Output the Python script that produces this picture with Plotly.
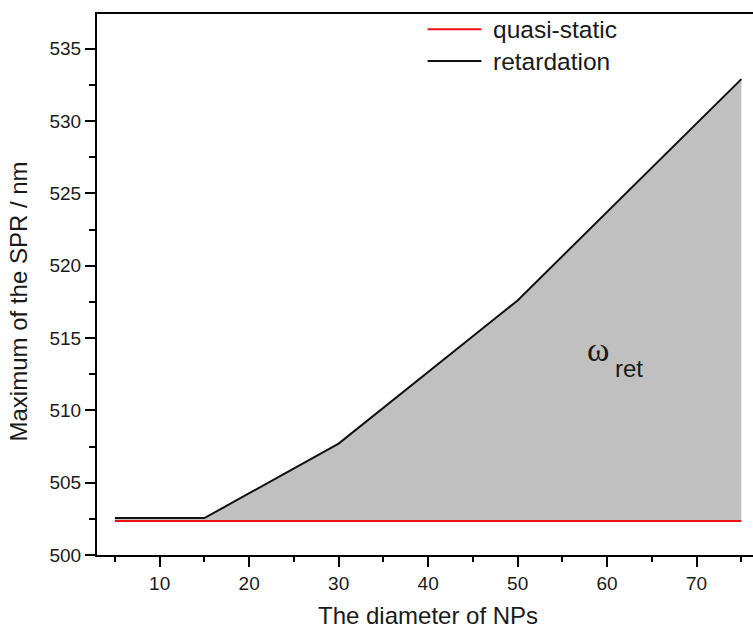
import plotly.graph_objects as go

diameter = [5, 15, 30, 50, 75]
quasi_static = [502.35, 502.35, 502.35, 502.35, 502.35]
retardation = [502.55, 502.55, 507.7, 517.6, 532.9]
names = ["quasi-static", "retardation"]
colors = ["#ee1111", "#111111"]

x_ticks = [10, 20, 30, 40, 50, 60, 70]
y_ticks = [500, 505, 510, 515, 520, 525, 530, 535]

fig = go.Figure()
fig.add_trace(go.Scatter(x=diameter, y=quasi_static, mode="lines", name=names[0],
                         line=dict(color=colors[0], width=2), showlegend=False))
fig.add_trace(go.Scatter(x=diameter, y=retardation, mode="lines", name=names[1],
                         line=dict(color=colors[1], width=2), fill="tonexty",
                         fillcolor="rgb(192,192,192)", showlegend=False))

font_family = "Liberation Sans, Arial, sans-serif"
txt = "#1a1a1a"

fig.update_layout(
    width=753, height=630,
    margin=dict(l=97, r=0, t=14, b=75),
    plot_bgcolor="white", paper_bgcolor="white",
    font=dict(family=font_family, color=txt),
    showlegend=False,
)
fig.update_xaxes(
    range=[3.0, 76.3], showgrid=False, zeroline=False,
    showline=True, linecolor="black", linewidth=2, mirror=True,
    tickmode="array", tickvals=x_ticks, ticks="outside", ticklen=10, tickwidth=2, tickcolor="black",
    tickfont=dict(size=19),
    minor=dict(tickmode="linear", tick0=5, dtick=5, ticks="outside", ticklen=5, tickwidth=2, tickcolor="black"),
)
fig.update_yaxes(
    range=[500, 537.4], showgrid=False, zeroline=False,
    showline=True, linecolor="black", linewidth=2, mirror=False,
    tickmode="array", tickvals=y_ticks, ticks="outside", ticklen=10, tickwidth=2, tickcolor="black",
    tickfont=dict(size=19),
    minor=dict(tickmode="linear", tick0=500, dtick=2.5, ticks="outside", ticklen=6, tickwidth=2, tickcolor="black"),
)

# axis titles placed as in the reference
fig.add_annotation(xref="paper", yref="paper", x=0.5046, y=-0.112, text="The diameter of NPs",
                   showarrow=False, xanchor="center", yanchor="middle", font=dict(size=24, color=txt))
fig.add_annotation(xref="paper", yref="paper", x=-0.1197, y=0.4695, text="Maximum of the SPR / nm",
                   showarrow=False, textangle=-90, xanchor="center", yanchor="middle",
                   font=dict(size=24, color=txt))

# custom legend (longer line samples like the reference)
legend_rows = [0.972, 0.913]
for name, col, yy in zip(names, colors, legend_rows):
    fig.add_shape(type="line", xref="paper", yref="paper", x0=0.504, x1=0.586, y0=yy, y1=yy,
                  line=dict(color=col, width=2))
    fig.add_annotation(xref="paper", yref="paper", x=0.600, y=yy, text=name, showarrow=False,
                       xanchor="left", yanchor="middle", font=dict(size=24.5, color=txt))

# omega_ret label
fig.add_annotation(x=59.0, y=514.2, text="ω", showarrow=False, xanchor="center", yanchor="middle",
                   font=dict(family="Liberation Serif, Times New Roman, serif", size=34, color=txt))
fig.add_annotation(x=62.4, y=512.9, text="ret", showarrow=False, xanchor="center", yanchor="middle",
                   font=dict(size=24, color=txt))

fig.write_html("out.html", config={"displayModeBar": False},
               post_script="document.body.style.margin='0';")
